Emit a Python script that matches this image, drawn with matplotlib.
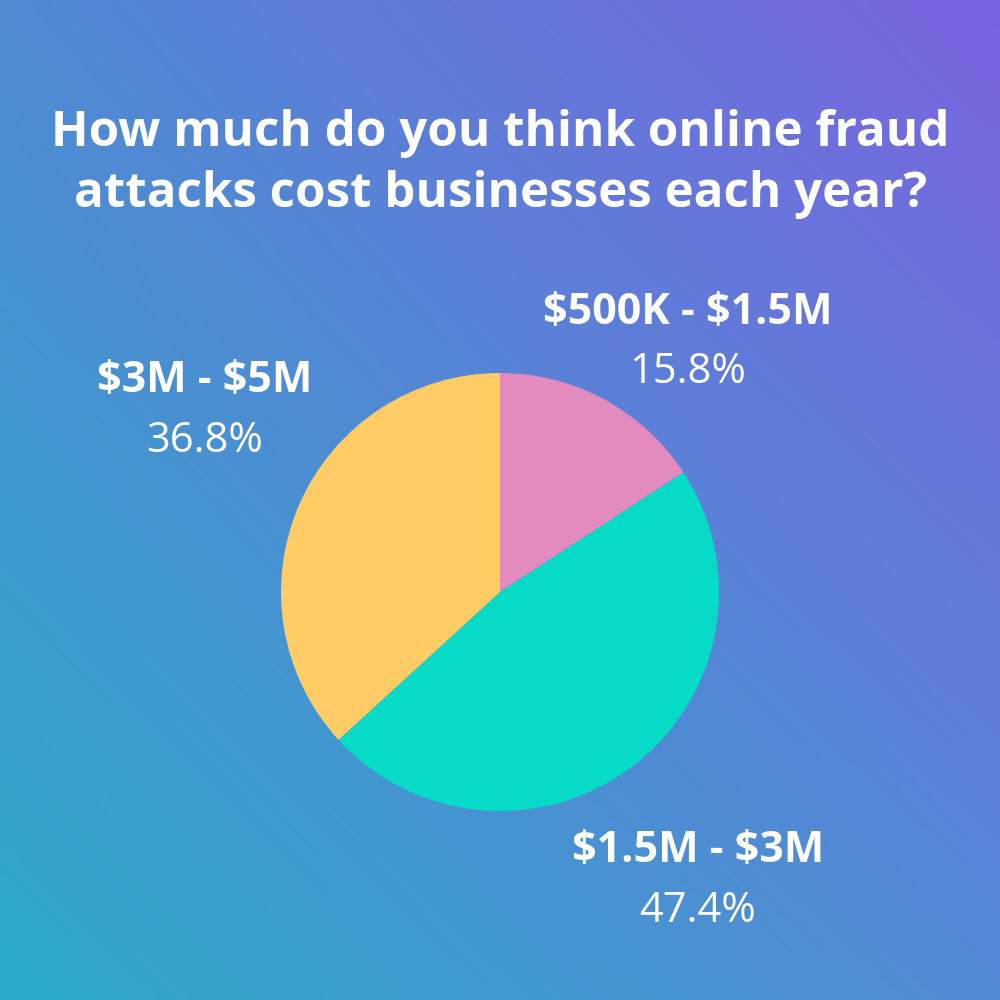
import numpy as np
import matplotlib.pyplot as plt

# survey answers
labels = ["$500K - $1.5M", "$1.5M - $3M", "$3M - $5M"]
shares = [15.8, 47.4, 36.8]
colors = ["#E38BBF", "#05DBC6", "#FFCC66"]

title = "How much do you think online fraud\nattacks cost businesses each year?"

plt.rcParams['font.family'] = ['Open Sans', 'DejaVu Sans']
plt.rcParams['text.parse_math'] = False

fig = plt.figure(figsize=(10, 10), dpi=100)
ax = fig.add_axes([0, 0, 1, 1])

# gradient background from corner colours
tl = np.array([80, 138, 212]) / 255
tr = np.array([122, 100, 224]) / 255
bl = np.array([44, 170, 202]) / 255
br = np.array([84, 138, 214]) / 255
n = 200
u = np.linspace(0, 1, n)[None, :, None]
v = np.linspace(0, 1, n)[:, None, None]
top = tl * (1 - u) + tr * u
bot = bl * (1 - u) + br * u
bg = top * (1 - v) + bot * v
ax.imshow(bg, extent=[0, 1000, 0, 1000], origin='upper', interpolation='bilinear', zorder=0)

ax.pie(shares, colors=colors, startangle=90, counterclock=False,
       center=(500, 408), radius=219, frame=True,
       wedgeprops=dict(linewidth=0))

ax.set_xlim(0, 1000)
ax.set_ylim(0, 1000)
ax.set_aspect('equal')
ax.axis('off')

ax.text(500, 836, title, ha='center', va='center', color='white',
        fontsize=35.5, fontweight='bold', linespacing=1.3)

# label positions (pixel coords from top)
label_pos = [(688, 312), (698, 851), (205, 381)]
for lab, val, (x, y) in zip(labels, shares, label_pos):
    ax.text(x, 1000 - y, lab, ha='center', va='center', color='white',
            fontsize=31, fontweight='bold')
    ax.text(x, 1000 - y - 60, f"{val}%", ha='center', va='center', color='white',
            fontsize=30)

fig.savefig("out.png", dpi=100)
